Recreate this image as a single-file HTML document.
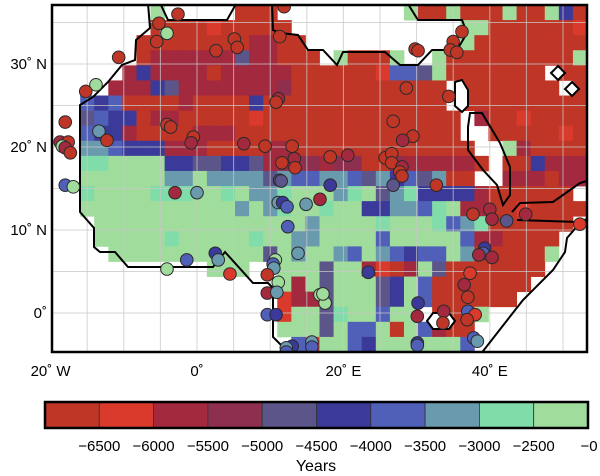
<!DOCTYPE html>
<html><head><meta charset="utf-8"><style>
html,body{margin:0;padding:0;background:#fff;width:600px;height:476px;overflow:hidden}
svg{display:block;font-family:"Liberation Sans",Arial,sans-serif}
</style></head><body>
<svg id="chart" width="600" height="476" viewBox="0 0 600 476">
<defs><clipPath id="mapclip"><rect x="52" y="5" width="535" height="347"/></clipPath></defs>
<g id="map" clip-path="url(#mapclip)"></g>
<g id="axes"></g>
<g id="cbar"></g>
</svg>
<script>
// ---- data ----
const binColors = ["#bf3526","#d93a2b","#a3293f","#8e2f4f","#5b558a","#3b3a9a","#5060b8","#6a9aae","#80dca8","#a0dc9c"];
const binLabels = ["-6500","-6000","-5500","-5000","-4500","-4000","-3500","-3000","-2500","-0"];
const lonTicks = [-20,0,20,40];
const lonTickLabels = ["20˚ W","0˚","20˚ E","40˚ E"];
const latTicks = [30,20,10,0];
const latTickLabels = ["30˚ N","20˚ N","10˚ N","0˚"];
// grid of reconstructed onset bins ('.' = no data), 38 columns x 23 rows
const gridRows = [
"......." + "9" + "....." + "000" + "........." + "9" + "00" + "9" + "000" + "9" + "00" + "9" + "5" + "0",
"......." + "000010000" + "0" + "............" + "99" + "0000001",
"......" + "00000000220" + "0" + "..........." + "90" + "0000000",
"......" + "02222224220" + "0" + "0" + "." + "9" + "000" + "9" + ".." + "9" + "000000000" + "9",
"....." + "2" + "5" + "2222022222" + "0000001" + "66" + "4" + "9" + "0000000" + "." + "0" + "0",
"...." + "222" + "5" + "4" + "22222223" + "00000000000" + "." + "0000000" + "." + "0",
".." + "656" + "0000" + "2000" + "05" + "0000000000000" + "." + "00000000" + "0",
".." + "4655" + "0220" + "00001" + "00000000000000" + "." + "2" + "0010000",
".." + "655" + "2" + "0000" + "22200" + "00000000000000" + ".." + "0000010",
".." + "7765" + "5522" + "20000" + "22000" + "0000000000" + ".." + "9" + "2" + "0000",
".." + "889999" + "55" + "4455" + "4233" + "32330" + "03222" + "220" + "." + "00" + "5" + "222",
".." + "999999" + "7797" + "77747" + "6677647564700" + ".." + "222022",
".." + "899998" + "88998" + "977" + "899978947855552000000.",
".." + "999999" + "99999" + "797" + "8998995577689220010000",
"..." + "99999" + "99999" + "99999" + "7999989998678000000.",
"..." + "99999" + "89999" + "98997" + "799996999996220000..",
"...." + "9999" + "99999" + "99497" + "997697656697000009..",
"..........." + "999" + ".." + "999" + "4992102940" + "000000" + "...",
"................" + "9" + "2949994596" + "0000000" + "....",
"................" + "1" + "2249994596" + "000000" + ".....",
"................" + "1" + "994899699." + "0009" + ".......",
"................" + "9" + "9949669096" + "200" + "........",
"................." + "6199659999" + "996" + "........"
];
const siteLon = [-2.6,-5.2,-4.1,-5.5,-10.7,-13.8,-15.2,-18.0,-18.7,-17.6,-18.4,-18.0,-17.3,-13.4,-12.3,-4.1,-3.6,-0.5,-0.8,2.6,5.1,5.5,6.4,9.3,11.1,10.8,11.3,11.9,13.0,13.3,13.4,11.6,18.2,11.3,36.2,35.0,34.6,35.5,29.8,30.2,28.6,34.4,26.8,29.5,28.1,20.6,25.7,26.6,26.6,28.0,27.7,28.0,-18.0,-16.9,-3.0,0.0,11.5,18.2,11.1,11.7,12.3,14.9,16.8,12.4,13.8,2.5,2.9,-1.4,-4.1,4.5,10.7,10.4,10.5,9.6,11.1,9.6,10.9,9.6,10.8,16.8,17.5,17.2,15.7,15.7,13.0,12.2,12.2,26.8,32.7,37.7,40.0,40.3,42.3,44.9,52.3,39.3,39.1,38.5,40.3,37.3,23.4,36.5,37.0,30.2,30.1,33.7,33.6,37.0,38.0,36.9,37.8,38.3,30.1,30.1];
const siteLat = [36.0,34.9,33.7,32.7,30.8,27.5,26.7,23.0,20.6,20.6,20.1,19.9,19.3,21.9,20.8,22.7,22.4,21.2,20.5,31.6,33.0,32.0,20.4,20.1,25.8,25.4,33.3,36.9,20.1,18.6,17.5,18.1,18.8,16.0,33.9,32.7,31.7,31.4,31.8,31.6,27.1,26.1,23.1,21.3,20.8,19.0,18.7,19.2,18.1,17.6,17.0,16.5,15.4,15.2,14.5,14.5,15.9,15.4,13.3,13.3,12.8,13.1,13.7,10.4,7.2,7.2,6.4,6.4,5.3,4.7,6.4,5.9,5.4,4.6,3.7,2.4,2.5,-0.2,-0.2,2.2,1.2,2.3,-3.5,-4.1,-4.0,-4.2,-4.7,15.4,15.4,11.9,12.5,11.3,11.1,11.9,10.7,7.8,7.2,7.0,6.7,4.8,4.9,3.4,1.9,1.2,-0.4,0.2,-1.2,0.2,-0.2,-0.8,-3.0,-3.4,-3.6,-3.9];
const siteBin = [0,0,9,0,0,9,0,0,2,0,9,2,0,7,0,0,0,0,2,0,0,0,2,0,2,0,0,0,0,2,0,0,0,4,0,0,0,0,0,0,0,0,0,0,2,2,0,0,0,2,0,0,6,9,2,7,4,5,7,5,6,7,2,6,7,5,7,6,9,1,9,6,7,0,9,2,7,6,5,9,9,9,7,6,5,7,6,4,0,0,2,2,4,2,1,5,6,2,2,1,5,2,0,5,2,2,0,6,1,0,6,7,5,6];

// ---- scales ----
const x = lon => 197 + lon * 7.32;
const y = lat => 313 - lat * 8.3;
const colX = c => 52 + c * (535 / 38);
const rowY = r => 5 + r * (347 / 23);
const NS = "http://www.w3.org/2000/svg";
function mk(tag, attrs, parent) {
  const el = document.createElementNS(NS, tag);
  for (const k in attrs) el.setAttribute(k, attrs[k]);
  parent.appendChild(el);
  return el;
}
const map = document.getElementById("map");
const axes = document.getElementById("axes");
const cbar = document.getElementById("cbar");

// cells
gridRows.forEach((row, r) => {
  for (let c = 0; c < 38; c++) {
    const ch = row[c];
    if (ch === undefined || ch === ".") continue;
    const cell = mk("rect", {x: colX(c), y: rowY(r), width: 535/38 + 0.4, height: 347/23 + 0.4, fill: binColors[+ch]}, map);
    
    
  }
});

// gridlines
for (let lon = -20; lon <= 55; lon += 5) {
  const g = mk("line", {x1: x(lon), x2: x(lon), y1: 5, y2: 352, stroke: "#c8c8c8", "stroke-width": 1, opacity: 0.75}, map);
  
  
}
for (let lat = -5; lat <= 35; lat += 5) {
  const g = mk("line", {x1: 52, x2: 587, y1: y(lat), y2: y(lat), stroke: "#c8c8c8", "stroke-width": 1, opacity: 0.75}, map);
  
  
}

// coastlines (outline of data region)
const coasts = [
  "M148,3 L150,28 L136,40 L135,60 L122,65 L108,82 L93,97 L80,105 L80,212 L94,228 L94,247 L100,252 L115,252 L128,267 L213,267 L225,252 L253,283 L268,283 L273,288 L273,337 L283,347 L287,356",
  "M160,3 L168,20 L227,20 L236,4",
  "M272,3 L273,30 L280,33 L298,35 L308,50 L323,50 L337,65 L343,52 L385,52 L400,65 L418,65 L432,50 L457,50 L467,33 L462,20 L418,20 L408,4",
  "M470,113 L482,113 L500,143 L510,167 L510,195 L503,205 L497,185 L483,170 L468,150 L468,127 Z",
  "M512,212 L520,203 L553,202 L580,183 L590,180 M517,220 L578,222 L590,218",
  "M480,355 L523,300 L553,270 L565,252 L567,238 L580,223"
];
coasts.forEach(d => {
  const p = mk("path", {d: d, fill: "none", stroke: "#000", "stroke-width": 2, "stroke-linejoin": "miter"}, map);
  
  
});
["M455,82 L462,80 L468,90 L468,106 L462,112 L455,106 L455,90 Z","M558,66 L565,73 L558,80 L551,73 Z","M572,82 L579,89 L572,96 L565,89 Z","M427,321 L433,313 L449,313 L455,321 L449,329 L433,329 Z"].forEach(d => {
  const p = mk("path", {d: d, fill: "#fff", stroke: "#000", "stroke-width": 2}, map);
  
  
});

// sites
siteLon.forEach((lon, i) => {
  const s = mk("circle", {cx: x(lon), cy: y(siteLat[i]), r: 6.3, fill: binColors[siteBin[i]], stroke: "#2a2a2a", "stroke-width": 1}, map);
  
  
});

// frame
const fr = mk("rect", {x: 52, y: 5, width: 535, height: 347, fill: "none", stroke: "#000", "stroke-width": 2.5}, axes);



// tick labels
lonTicks.forEach((lon, i) => {
  const t = mk("text", {x: x(lon), y: 376, "text-anchor": "middle", "font-size": 15, fill: "#000"}, axes);
  t.textContent = lonTickLabels[i];
  
  
});
latTicks.forEach((lat, i) => {
  const t = mk("text", {x: 47, y: y(lat) + 5, "text-anchor": "end", "font-size": 15, fill: "#000"}, axes);
  t.textContent = latTickLabels[i];
  
  
});

// colorbar
const cbX0 = 45, cbX1 = 588, cbY = 402, cbH = 26;
const bw = (cbX1 - cbX0) / binColors.length;
binColors.forEach((col, i) => {
  const r = mk("rect", {x: cbX0 + i * bw, y: cbY, width: bw, height: cbH, fill: col, stroke: "#333", "stroke-width": 0.8}, cbar);
  
  
  const t = mk("text", {x: cbX0 + (i + 1) * bw + (i === binColors.length - 1 ? 1 : 0), y: 451, "text-anchor": "middle", "font-size": 15, fill: "#000"}, cbar);
  t.textContent = binLabels[i].replace("-", "\u2212");
  
  
});
const cbf = mk("rect", {x: cbX0, y: cbY, width: cbX1 - cbX0, height: cbH, fill: "none", stroke: "#000", "stroke-width": 2.5}, cbar);


const yt = mk("text", {x: 316, y: 471, "text-anchor": "middle", "font-size": 16, fill: "#000"}, cbar);
yt.textContent = "Years";


</script>
</body></html>
